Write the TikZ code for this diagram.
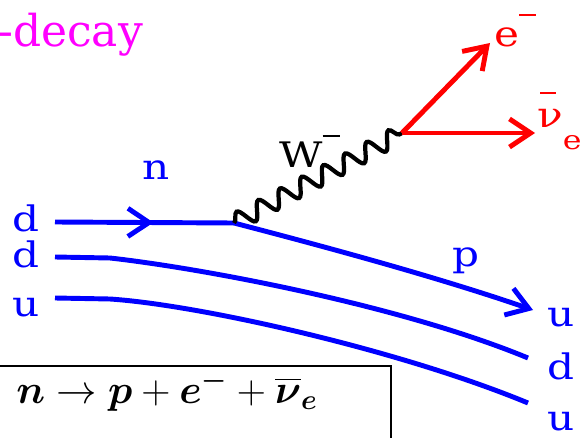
\RequirePackage{fix-cm}
\documentclass[tikz,border=0pt]{standalone}
\usepackage{amsmath,amssymb}
\usepackage{fontspec}
\setmainfont{DejaVu Serif}
\newfontfamily\labelfont{DejaVu Serif}[FakeStretch=1.2]
\usepackage{tikz}
\usetikzlibrary{arrows.meta, decorations.pathmorphing, decorations.markings}
\usepackage{xcolor}
\definecolor{DecayMagenta}{HTML}{FF00FF}
\definecolor{QuarkBlue}{HTML}{0000FF}
\definecolor{LeptonRed}{HTML}{FF0000}
\definecolor{BosonBlack}{HTML}{000000}
% raised minus and bar as in the labels
\newcommand{\himinus}{\rule[0.88em]{0.48em}{0.05em}}
\newcommand{\hibar}[1]{\makebox[0pt][l]{\hspace{0.08em}\rule[0.97em]{0.45em}{0.05em}}#1}
\tikzset{
    % Label styles
    quarklabel/.style={
        text=QuarkBlue,
        inner sep=0pt,
        anchor=base,
        font=\labelfont\fontsize{20pt}{24pt}\selectfont
    },
    leptonlabel/.style={
        quarklabel,
        text=LeptonRed,
        anchor=base west
    },
    bosonlabel/.style={
        quarklabel,
        text=BosonBlack,
        anchor=base west
    },
    titlelabel/.style={
        text=DecayMagenta,
        inner sep=0pt,
        anchor=base west,
        font=\fontsize{25pt}{30pt}\selectfont
    },
    eqnlabel/.style={
        inner sep=0pt,
        anchor=base,
        font=\fontsize{23pt}{28pt}\selectfont
    },
    % Line styles
    quark/.style={
        draw=QuarkBlue,
        line width=2.8pt
    },
    quarkarrow/.style={
        quark,
        -{Straight Barb[length=12pt,width=16pt]}
    },
    midarrow/.style={
        postaction={decorate, decoration={markings,
            mark=at position #1 with {\arrow{Straight Barb[length=12pt,width=16pt]}}}}
    },
    lepton/.style={
        draw=LeptonRed,
        line width=2.8pt,
        -{Straight Barb[length=12pt,width=16pt]}
    },
    wboson/.style={
        draw=BosonBlack,
        line width=2.4pt,
        decorate,
        decoration={snake, amplitude=5pt, segment length=14pt}
    },
    eqframe/.style={
        draw=BosonBlack,
        line width=1.1pt
    }
}
\begin{document}
\begin{tikzpicture}[x=0.2mm, y=-0.2mm]
    \useasboundingbox (0,0) rectangle (582,438);

    % labels
    \node[titlelabel] (title) at (-2,47) {-decay};
    \node[quarklabel] (dinA) at (26,232) {d};
    \node[quarklabel] (dinB) at (26,267) {d};
    \node[quarklabel] (uinC) at (26,317) {u};
    \node[quarklabel] (uoutA) at (561,327) {u};
    \node[quarklabel] (doutB) at (561,380) {d};
    \node[quarklabel] (uoutC) at (561,430) {u};
    \node[quarklabel] (nlabel) at (156,180) {n};
    \node[quarklabel] (plabel) at (466,266) {p};
    \node[bosonlabel] (wlabel) at (279,168) {W\himinus};
    \node[leptonlabel] (elabel) at (494,47) {e\himinus};
    \node[leptonlabel] (nulabel) at (537,128) {\hibar{ν}\raisebox{-0.6em}{\fontsize{15pt}{18pt}\selectfont e}};

    % vertices and line ends
    \coordinate (qA) at (55,222);
    \coordinate (vtx) at (234,223);
    \coordinate (pend) at (533,310);
    \coordinate (qB) at (55,257);
    \coordinate (qBend) at (528,358);
    \coordinate (qC) at (55,298);
    \coordinate (qCend) at (528,403);
    \coordinate (wvtx) at (402,133);
    \coordinate (etip) at (490,43);
    \coordinate (nutip) at (535,133);

    % quark lines
    \draw[quark, midarrow=0.55] (qA) -- (vtx);
    \draw[quarkarrow] (vtx) .. controls (330,248) and (440,278) .. (pend);
    \draw[quark] (qB) -- (110,258) .. controls (200,268) and (400,305) .. (qBend);
    \draw[quark] (qC) -- (110,299) .. controls (200,305) and (400,350) .. (qCend);

    % W boson and leptons
    \draw[wboson] (vtx) -- (wvtx);
    \draw[lepton] (wvtx) -- (etip);
    \draw[lepton] (wvtx) -- (nutip);

    % equation box
    \node[eqnlabel] (eqn) at (167,403) {$\boldsymbol{n}\rightarrow\boldsymbol{p}+\boldsymbol{e}^{\boldsymbol{-}}+\overline{\boldsymbol{\nu}}_{\boldsymbol{e}}$};
    \draw[eqframe] (-10,366) rectangle (391,450);
\end{tikzpicture}
\end{document}
